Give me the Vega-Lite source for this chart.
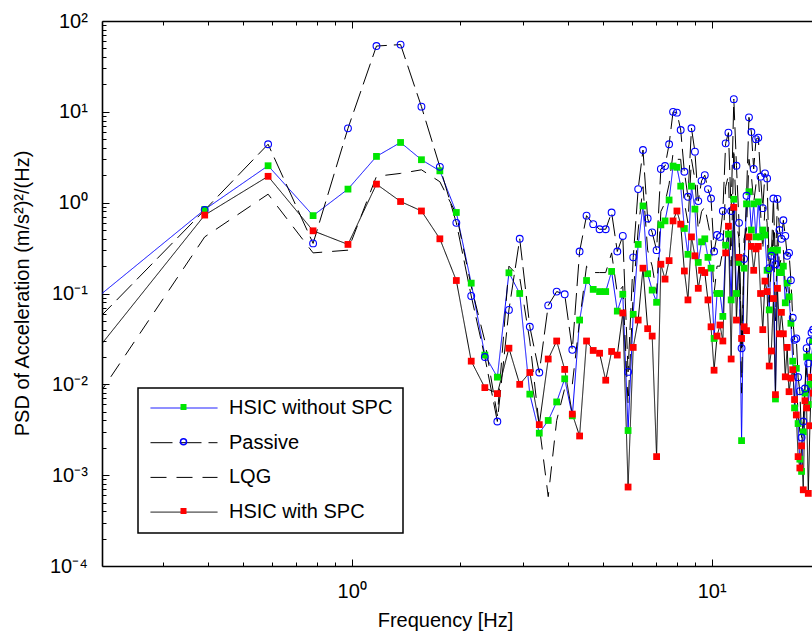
{
"$schema": "https://vega.github.io/schema/vega-lite/v6.json",
"width": 710, "height": 545,
"autosize": {"type": "none"},
"padding": {"left": 102, "top": 21, "right": 0, "bottom": 70},
"background": "white",
"config": {
  "view": {"stroke": null},
  "font": "Liberation Sans",
  "axis": {"grid": false, "domainColor": "black", "tickColor": "black", "labelColor": "black", "titleColor": "black", "labelFont": "Liberation Sans", "titleFont": "Liberation Sans", "labelFontSize": 20, "titleFontSize": 20, "titleFontWeight": "normal", "domainWidth": 1.6, "tickWidth": 1, "labelOverlap": false, "labelFlush": false},
  "legend": {"labelFont": "Liberation Sans", "labelFontSize": 20, "labelColor": "black", "strokeWidth": 1.5, "labelLimit": 400}
},
"datasets": {"psd": [
{"series":"HSIC without SPC","freq":0.1953,"psd":0.089},{"series":"HSIC without SPC","freq":0.3906,"psd":0.84},{"series":"HSIC without SPC","freq":0.5859,"psd":2.55},{"series":"HSIC without SPC","freq":0.7813,"psd":0.72},{"series":"HSIC without SPC","freq":0.9766,"psd":1.41},{"series":"HSIC without SPC","freq":1.1719,"psd":3.23},{"series":"HSIC without SPC","freq":1.3672,"psd":4.6},{"series":"HSIC without SPC","freq":1.5625,"psd":2.97},{"series":"HSIC without SPC","freq":1.7578,"psd":2.24},{"series":"HSIC without SPC","freq":1.9531,"psd":0.78},
{"series":"HSIC without SPC","freq":2.1484,"psd":0.13},{"series":"HSIC without SPC","freq":2.3438,"psd":0.021},{"series":"HSIC without SPC","freq":2.5391,"psd":0.012},{"series":"HSIC without SPC","freq":2.7344,"psd":0.169},{"series":"HSIC without SPC","freq":2.9297,"psd":0.10},{"series":"HSIC without SPC","freq":3.125,"psd":0.0078},{"series":"HSIC without SPC","freq":3.3203,"psd":0.0029},{"series":"HSIC without SPC","freq":3.5156,"psd":0.0040},{"series":"HSIC without SPC","freq":3.7109,"psd":0.0064},{"series":"HSIC without SPC","freq":3.9063,"psd":0.0115},
{"series":"HSIC without SPC","freq":4.1016,"psd":0.0045},{"series":"HSIC without SPC","freq":4.2969,"psd":0.051},{"series":"HSIC without SPC","freq":4.4922,"psd":0.139},{"series":"HSIC without SPC","freq":4.6875,"psd":0.111},{"series":"HSIC without SPC","freq":4.8828,"psd":0.105},{"series":"HSIC without SPC","freq":5.0781,"psd":0.105},{"series":"HSIC without SPC","freq":5.2734,"psd":0.175},{"series":"HSIC without SPC","freq":5.4688,"psd":0.064},{"series":"HSIC without SPC","freq":5.6641,"psd":0.098},{"series":"HSIC without SPC","freq":5.8594,"psd":0.0031},
{"series":"HSIC without SPC","freq":6.0547,"psd":0.059},{"series":"HSIC without SPC","freq":6.25,"psd":0.347},{"series":"HSIC without SPC","freq":6.4453,"psd":0.92},{"series":"HSIC without SPC","freq":6.6406,"psd":0.165},{"series":"HSIC without SPC","freq":6.8359,"psd":0.109},{"series":"HSIC without SPC","freq":7.0313,"psd":0.080},{"series":"HSIC without SPC","freq":7.2266,"psd":0.57},{"series":"HSIC without SPC","freq":7.4219,"psd":0.63},{"series":"HSIC without SPC","freq":7.6172,"psd":1.07},{"series":"HSIC without SPC","freq":7.8125,"psd":2.53},
{"series":"HSIC without SPC","freq":8.0078,"psd":2.45},{"series":"HSIC without SPC","freq":8.2031,"psd":1.52},{"series":"HSIC without SPC","freq":8.3984,"psd":0.52},{"series":"HSIC without SPC","freq":8.5938,"psd":0.27},{"series":"HSIC without SPC","freq":8.7891,"psd":1.52},{"series":"HSIC without SPC","freq":8.9844,"psd":0.85},{"series":"HSIC without SPC","freq":9.1797,"psd":0.22},{"series":"HSIC without SPC","freq":9.375,"psd":0.37},{"series":"HSIC without SPC","freq":9.5703,"psd":0.40},{"series":"HSIC without SPC","freq":9.7656,"psd":0.25},
{"series":"HSIC without SPC","freq":9.9609,"psd":0.19},{"series":"HSIC without SPC","freq":10.1563,"psd":0.032},{"series":"HSIC without SPC","freq":10.3516,"psd":0.10},{"series":"HSIC without SPC","freq":10.5469,"psd":0.10},{"series":"HSIC without SPC","freq":10.7422,"psd":0.056},{"series":"HSIC without SPC","freq":10.9375,"psd":0.34},{"series":"HSIC without SPC","freq":11.1328,"psd":0.45},{"series":"HSIC without SPC","freq":11.3281,"psd":0.085},{"series":"HSIC without SPC","freq":11.5234,"psd":1.09},{"series":"HSIC without SPC","freq":11.7188,"psd":0.10},
{"series":"HSIC without SPC","freq":11.9141,"psd":0.22},{"series":"HSIC without SPC","freq":12.1094,"psd":0.0024},{"series":"HSIC without SPC","freq":12.3047,"psd":0.19},{"series":"HSIC without SPC","freq":12.5,"psd":0.97},{"series":"HSIC without SPC","freq":12.6953,"psd":1.32},{"series":"HSIC without SPC","freq":12.8906,"psd":0.5},{"series":"HSIC without SPC","freq":13.0859,"psd":0.97},{"series":"HSIC without SPC","freq":13.2813,"psd":0.42},{"series":"HSIC without SPC","freq":13.4766,"psd":1.02},{"series":"HSIC without SPC","freq":13.6719,"psd":0.42},
{"series":"HSIC without SPC","freq":13.8672,"psd":0.50},{"series":"HSIC without SPC","freq":14.0625,"psd":0.44},{"series":"HSIC without SPC","freq":14.2578,"psd":0.18},{"series":"HSIC without SPC","freq":14.4531,"psd":0.066},{"series":"HSIC without SPC","freq":14.6484,"psd":0.29},{"series":"HSIC without SPC","freq":14.8438,"psd":0.30},{"series":"HSIC without SPC","freq":15.0391,"psd":0.0069},{"series":"HSIC without SPC","freq":15.2344,"psd":0.30},{"series":"HSIC without SPC","freq":15.4297,"psd":0.17},{"series":"HSIC without SPC","freq":15.625,"psd":0.17},
{"series":"HSIC without SPC","freq":15.8203,"psd":0.2},{"series":"HSIC without SPC","freq":16.0156,"psd":0.079},{"series":"HSIC without SPC","freq":16.2109,"psd":0.13},{"series":"HSIC without SPC","freq":16.4063,"psd":0.092},{"series":"HSIC without SPC","freq":16.6016,"psd":0.047},{"series":"HSIC without SPC","freq":16.7969,"psd":0.018},{"series":"HSIC without SPC","freq":16.9922,"psd":0.0055},{"series":"HSIC without SPC","freq":17.1875,"psd":0.015},{"series":"HSIC without SPC","freq":17.3828,"psd":0.0037},{"series":"HSIC without SPC","freq":17.5781,"psd":0.0015},
{"series":"HSIC without SPC","freq":17.7734,"psd":0.0011},{"series":"HSIC without SPC","freq":17.9688,"psd":0.003},{"series":"HSIC without SPC","freq":18.1641,"psd":0.008},{"series":"HSIC without SPC","freq":18.3594,"psd":0.02},{"series":"HSIC without SPC","freq":18.5547,"psd":0.006},{"series":"HSIC without SPC","freq":18.75,"psd":0.01},{"series":"HSIC without SPC","freq":18.9453,"psd":0.02},{"series":"HSIC without SPC","freq":19.1406,"psd":0.03},

{"series":"Passive","freq":0.1953,"psd":0.050},{"series":"Passive","freq":0.3906,"psd":0.83},{"series":"Passive","freq":0.5859,"psd":4.4},{"series":"Passive","freq":0.7813,"psd":0.356},{"series":"Passive","freq":0.9766,"psd":6.58},{"series":"Passive","freq":1.1719,"psd":53},{"series":"Passive","freq":1.3672,"psd":55},{"series":"Passive","freq":1.5625,"psd":11.4},{"series":"Passive","freq":1.7578,"psd":2.48},{"series":"Passive","freq":1.9531,"psd":0.60},
{"series":"Passive","freq":2.1484,"psd":0.094},{"series":"Passive","freq":2.3438,"psd":0.02},{"series":"Passive","freq":2.5391,"psd":0.0039},{"series":"Passive","freq":2.7344,"psd":0.066},{"series":"Passive","freq":2.9297,"psd":0.40},{"series":"Passive","freq":3.125,"psd":0.043},{"series":"Passive","freq":3.3203,"psd":0.0135},{"series":"Passive","freq":3.5156,"psd":0.074},{"series":"Passive","freq":3.7109,"psd":0.105},{"series":"Passive","freq":3.9063,"psd":0.098},
{"series":"Passive","freq":4.1016,"psd":0.024},{"series":"Passive","freq":4.2969,"psd":0.29},{"series":"Passive","freq":4.4922,"psd":0.72},{"series":"Passive","freq":4.6875,"psd":0.58},{"series":"Passive","freq":4.8828,"psd":0.51},{"series":"Passive","freq":5.0781,"psd":0.51},{"series":"Passive","freq":5.2734,"psd":0.78},{"series":"Passive","freq":5.4688,"psd":0.29},{"series":"Passive","freq":5.6641,"psd":0.43},{"series":"Passive","freq":5.8594,"psd":0.0137},
{"series":"Passive","freq":6.0547,"psd":0.25},{"series":"Passive","freq":6.25,"psd":1.41},{"series":"Passive","freq":6.4453,"psd":3.8},{"series":"Passive","freq":6.6406,"psd":0.67},{"series":"Passive","freq":6.8359,"psd":0.47},{"series":"Passive","freq":7.0313,"psd":0.30},{"series":"Passive","freq":7.2266,"psd":2.35},{"series":"Passive","freq":7.4219,"psd":2.53},{"series":"Passive","freq":7.6172,"psd":4.4},{"series":"Passive","freq":7.8125,"psd":10.0},
{"series":"Passive","freq":8.0078,"psd":9.8},{"series":"Passive","freq":8.2031,"psd":6.3},{"series":"Passive","freq":8.3984,"psd":2.19},{"series":"Passive","freq":8.5938,"psd":1.16},{"series":"Passive","freq":8.7891,"psd":6.6},{"series":"Passive","freq":8.9844,"psd":3.64},{"series":"Passive","freq":9.1797,"psd":1.04},{"series":"Passive","freq":9.375,"psd":1.74},{"series":"Passive","freq":9.5703,"psd":2.01},{"series":"Passive","freq":9.7656,"psd":1.41},
{"series":"Passive","freq":9.9609,"psd":1.11},{"series":"Passive","freq":10.1563,"psd":0.29},{"series":"Passive","freq":10.3516,"psd":0.44},{"series":"Passive","freq":10.5469,"psd":0.42},{"series":"Passive","freq":10.7422,"psd":0.81},{"series":"Passive","freq":10.9375,"psd":4.5},{"series":"Passive","freq":11.1328,"psd":5.9},{"series":"Passive","freq":11.3281,"psd":0.81},{"series":"Passive","freq":11.5234,"psd":13.8},{"series":"Passive","freq":11.7188,"psd":2.55},
{"series":"Passive","freq":11.9141,"psd":0.6},{"series":"Passive","freq":12.1094,"psd":0.025},{"series":"Passive","freq":12.3047,"psd":0.24},{"series":"Passive","freq":12.5,"psd":1.19},{"series":"Passive","freq":12.6953,"psd":8.7},{"series":"Passive","freq":12.8906,"psd":6.0},{"series":"Passive","freq":13.0859,"psd":2.35},{"series":"Passive","freq":13.2813,"psd":5.0},{"series":"Passive","freq":13.4766,"psd":5.2},{"series":"Passive","freq":13.6719,"psd":1.93},
{"series":"Passive","freq":13.8672,"psd":0.87},{"series":"Passive","freq":14.0625,"psd":2.1},{"series":"Passive","freq":14.2578,"psd":1.85},{"series":"Passive","freq":14.4531,"psd":0.19},{"series":"Passive","freq":14.6484,"psd":0.26},{"series":"Passive","freq":14.8438,"psd":1.11},{"series":"Passive","freq":15.0391,"psd":0.21},{"series":"Passive","freq":15.2344,"psd":1.1},{"series":"Passive","freq":15.4297,"psd":0.5},{"series":"Passive","freq":15.625,"psd":0.40},
{"series":"Passive","freq":15.8203,"psd":0.64},{"series":"Passive","freq":16.0156,"psd":0.43},{"series":"Passive","freq":16.2109,"psd":0.26},{"series":"Passive","freq":16.4063,"psd":0.28},{"series":"Passive","freq":16.6016,"psd":0.14},{"series":"Passive","freq":16.7969,"psd":0.054},{"series":"Passive","freq":16.9922,"psd":0.031},{"series":"Passive","freq":17.1875,"psd":0.032},{"series":"Passive","freq":17.3828,"psd":0.012},{"series":"Passive","freq":17.5781,"psd":0.0084},
{"series":"Passive","freq":17.7734,"psd":0.0026},{"series":"Passive","freq":17.9688,"psd":0.0039},{"series":"Passive","freq":18.1641,"psd":0.009},{"series":"Passive","freq":18.3594,"psd":0.025},{"series":"Passive","freq":18.5547,"psd":0.017},{"series":"Passive","freq":18.75,"psd":0.03},{"series":"Passive","freq":18.9453,"psd":0.037},{"series":"Passive","freq":19.1406,"psd":0.04},

{"series":"LQG","freq":0.1953,"psd":0.0070},{"series":"LQG","freq":0.3906,"psd":0.42},{"series":"LQG","freq":0.5859,"psd":1.24},{"series":"LQG","freq":0.7813,"psd":0.28},{"series":"LQG","freq":0.9766,"psd":0.30},{"series":"LQG","freq":1.1719,"psd":1.95},{"series":"LQG","freq":1.3672,"psd":2.1},{"series":"LQG","freq":1.5625,"psd":2.3},{"series":"LQG","freq":1.7578,"psd":1.7},{"series":"LQG","freq":1.9531,"psd":0.75},
{"series":"LQG","freq":2.1484,"psd":0.12},{"series":"LQG","freq":2.3438,"psd":0.03},{"series":"LQG","freq":2.5391,"psd":0.0045},{"series":"LQG","freq":2.7344,"psd":0.2},{"series":"LQG","freq":2.9297,"psd":0.15},{"series":"LQG","freq":3.125,"psd":0.03},{"series":"LQG","freq":3.3203,"psd":0.0035},{"series":"LQG","freq":3.5156,"psd":0.00058},{"series":"LQG","freq":3.7109,"psd":0.004},{"series":"LQG","freq":3.9063,"psd":0.009},
{"series":"LQG","freq":4.1016,"psd":0.01},{"series":"LQG","freq":4.2969,"psd":0.05},{"series":"LQG","freq":4.4922,"psd":0.2},{"series":"LQG","freq":4.6875,"psd":0.17},{"series":"LQG","freq":4.8828,"psd":0.17},{"series":"LQG","freq":5.0781,"psd":0.17},{"series":"LQG","freq":5.2734,"psd":0.28},{"series":"LQG","freq":5.4688,"psd":0.1},{"series":"LQG","freq":5.6641,"psd":0.12},{"series":"LQG","freq":5.8594,"psd":0.006},
{"series":"LQG","freq":6.0547,"psd":0.1},{"series":"LQG","freq":6.25,"psd":0.5},{"series":"LQG","freq":6.4453,"psd":1.5},{"series":"LQG","freq":6.6406,"psd":0.3},{"series":"LQG","freq":6.8359,"psd":0.2},{"series":"LQG","freq":7.0313,"psd":0.1},{"series":"LQG","freq":7.2266,"psd":0.8},{"series":"LQG","freq":7.4219,"psd":1.0},{"series":"LQG","freq":7.6172,"psd":1.6},{"series":"LQG","freq":7.8125,"psd":3.5},
{"series":"LQG","freq":8.0078,"psd":3.0},{"series":"LQG","freq":8.2031,"psd":3.0},{"series":"LQG","freq":8.3984,"psd":1.0},{"series":"LQG","freq":8.5938,"psd":0.6},{"series":"LQG","freq":8.7891,"psd":3.0},{"series":"LQG","freq":8.9844,"psd":1.8},{"series":"LQG","freq":9.1797,"psd":0.5},{"series":"LQG","freq":9.375,"psd":0.8},{"series":"LQG","freq":9.5703,"psd":0.9},{"series":"LQG","freq":9.7656,"psd":0.6},
{"series":"LQG","freq":9.9609,"psd":0.4},{"series":"LQG","freq":10.1563,"psd":0.1},{"series":"LQG","freq":10.3516,"psd":0.2},{"series":"LQG","freq":10.5469,"psd":0.2},{"series":"LQG","freq":10.7422,"psd":0.3},{"series":"LQG","freq":10.9375,"psd":1.5},{"series":"LQG","freq":11.1328,"psd":2.0},{"series":"LQG","freq":11.3281,"psd":0.2},{"series":"LQG","freq":11.5234,"psd":4.0},{"series":"LQG","freq":11.7188,"psd":0.6},
{"series":"LQG","freq":11.9141,"psd":0.4},{"series":"LQG","freq":12.1094,"psd":0.008},{"series":"LQG","freq":12.3047,"psd":0.4},{"series":"LQG","freq":12.5,"psd":0.5},{"series":"LQG","freq":12.6953,"psd":3.0},{"series":"LQG","freq":12.8906,"psd":2.0},{"series":"LQG","freq":13.0859,"psd":1.0},{"series":"LQG","freq":13.2813,"psd":1.6},{"series":"LQG","freq":13.4766,"psd":2.0},{"series":"LQG","freq":13.6719,"psd":0.8},
{"series":"LQG","freq":13.8672,"psd":0.3},{"series":"LQG","freq":14.0625,"psd":0.9},{"series":"LQG","freq":14.2578,"psd":0.6},{"series":"LQG","freq":14.4531,"psd":0.08},{"series":"LQG","freq":14.6484,"psd":0.2},{"series":"LQG","freq":14.8438,"psd":0.5},{"series":"LQG","freq":15.0391,"psd":0.05},{"series":"LQG","freq":15.2344,"psd":0.5},{"series":"LQG","freq":15.4297,"psd":0.2},{"series":"LQG","freq":15.625,"psd":0.25},
{"series":"LQG","freq":15.8203,"psd":0.3},{"series":"LQG","freq":16.0156,"psd":0.12},{"series":"LQG","freq":16.2109,"psd":0.1},{"series":"LQG","freq":16.4063,"psd":0.12},{"series":"LQG","freq":16.6016,"psd":0.05},{"series":"LQG","freq":16.7969,"psd":0.03},{"series":"LQG","freq":16.9922,"psd":0.012},{"series":"LQG","freq":17.1875,"psd":0.01},{"series":"LQG","freq":17.3828,"psd":0.005},{"series":"LQG","freq":17.5781,"psd":0.003},
{"series":"LQG","freq":17.7734,"psd":0.002},{"series":"LQG","freq":17.9688,"psd":0.004},{"series":"LQG","freq":18.1641,"psd":0.01},{"series":"LQG","freq":18.3594,"psd":0.015},{"series":"LQG","freq":18.5547,"psd":0.008},{"series":"LQG","freq":18.75,"psd":0.012},{"series":"LQG","freq":18.9453,"psd":0.02},{"series":"LQG","freq":19.1406,"psd":0.025},

{"series":"HSIC with SPC","freq":0.1953,"psd":0.0235},{"series":"HSIC with SPC","freq":0.3906,"psd":0.73},{"series":"HSIC with SPC","freq":0.5859,"psd":1.95},{"series":"HSIC with SPC","freq":0.7813,"psd":0.49},{"series":"HSIC with SPC","freq":0.9766,"psd":0.347},{"series":"HSIC with SPC","freq":1.1719,"psd":1.6},{"series":"HSIC with SPC","freq":1.3672,"psd":1.03},{"series":"HSIC with SPC","freq":1.5625,"psd":0.81},{"series":"HSIC with SPC","freq":1.7578,"psd":0.40},{"series":"HSIC with SPC","freq":1.9531,"psd":0.139},
{"series":"HSIC with SPC","freq":2.1484,"psd":0.018},{"series":"HSIC with SPC","freq":2.3438,"psd":0.0092},{"series":"HSIC with SPC","freq":2.5391,"psd":0.0079},{"series":"HSIC with SPC","freq":2.7344,"psd":0.025},{"series":"HSIC with SPC","freq":2.9297,"psd":0.010},{"series":"HSIC with SPC","freq":3.125,"psd":0.0135},{"series":"HSIC with SPC","freq":3.3203,"psd":0.0036},{"series":"HSIC with SPC","freq":3.5156,"psd":0.019},{"series":"HSIC with SPC","freq":3.7109,"psd":0.030},{"series":"HSIC with SPC","freq":3.9063,"psd":0.0146},
{"series":"HSIC with SPC","freq":4.1016,"psd":0.0047},{"series":"HSIC with SPC","freq":4.2969,"psd":0.0027},{"series":"HSIC with SPC","freq":4.4922,"psd":0.030},{"series":"HSIC with SPC","freq":4.6875,"psd":0.0236},{"series":"HSIC with SPC","freq":4.8828,"psd":0.022},{"series":"HSIC with SPC","freq":5.0781,"psd":0.0111},{"series":"HSIC with SPC","freq":5.2734,"psd":0.023},{"series":"HSIC with SPC","freq":5.4688,"psd":0.021},{"series":"HSIC with SPC","freq":5.6641,"psd":0.061},{"series":"HSIC with SPC","freq":5.8594,"psd":0.00074},
{"series":"HSIC with SPC","freq":6.0547,"psd":0.0255},{"series":"HSIC with SPC","freq":6.25,"psd":0.051},{"series":"HSIC with SPC","freq":6.4453,"psd":0.19},{"series":"HSIC with SPC","freq":6.6406,"psd":0.041},{"series":"HSIC with SPC","freq":6.8359,"psd":0.034},{"series":"HSIC with SPC","freq":7.0313,"psd":0.0016},{"series":"HSIC with SPC","freq":7.2266,"psd":0.21},{"series":"HSIC with SPC","freq":7.4219,"psd":0.144},{"series":"HSIC with SPC","freq":7.6172,"psd":0.23},{"series":"HSIC with SPC","freq":7.8125,"psd":0.63},
{"series":"HSIC with SPC","freq":8.0078,"psd":0.81},{"series":"HSIC with SPC","freq":8.2031,"psd":0.58},{"series":"HSIC with SPC","freq":8.3984,"psd":0.177},{"series":"HSIC with SPC","freq":8.5938,"psd":0.085},{"series":"HSIC with SPC","freq":8.7891,"psd":0.42},{"series":"HSIC with SPC","freq":8.9844,"psd":0.26},{"series":"HSIC with SPC","freq":9.1797,"psd":0.114},{"series":"HSIC with SPC","freq":9.375,"psd":0.18},{"series":"HSIC with SPC","freq":9.5703,"psd":0.17},{"series":"HSIC with SPC","freq":9.7656,"psd":0.085},
{"series":"HSIC with SPC","freq":9.9609,"psd":0.043},{"series":"HSIC with SPC","freq":10.1563,"psd":0.0143},{"series":"HSIC with SPC","freq":10.3516,"psd":0.034},{"series":"HSIC with SPC","freq":10.5469,"psd":0.045},{"series":"HSIC with SPC","freq":10.7422,"psd":0.030},{"series":"HSIC with SPC","freq":10.9375,"psd":0.28},{"series":"HSIC with SPC","freq":11.1328,"psd":0.55},{"series":"HSIC with SPC","freq":11.3281,"psd":0.019},{"series":"HSIC with SPC","freq":11.5234,"psd":0.89},{"series":"HSIC with SPC","freq":11.7188,"psd":0.051},
{"series":"HSIC with SPC","freq":11.9141,"psd":0.25},{"series":"HSIC with SPC","freq":12.1094,"psd":0.032},{"series":"HSIC with SPC","freq":12.3047,"psd":0.043},{"series":"HSIC with SPC","freq":12.5,"psd":0.039},{"series":"HSIC with SPC","freq":12.6953,"psd":0.42},{"series":"HSIC with SPC","freq":12.8906,"psd":0.33},{"series":"HSIC with SPC","freq":13.0859,"psd":0.18},{"series":"HSIC with SPC","freq":13.2813,"psd":0.31},{"series":"HSIC with SPC","freq":13.4766,"psd":0.33},{"series":"HSIC with SPC","freq":13.6719,"psd":0.10},
{"series":"HSIC with SPC","freq":13.8672,"psd":0.04},{"series":"HSIC with SPC","freq":14.0625,"psd":0.137},{"series":"HSIC with SPC","freq":14.2578,"psd":0.105},{"series":"HSIC with SPC","freq":14.4531,"psd":0.0159},{"series":"HSIC with SPC","freq":14.6484,"psd":0.0233},{"series":"HSIC with SPC","freq":14.8438,"psd":0.088},{"series":"HSIC with SPC","freq":15.0391,"psd":0.0077},{"series":"HSIC with SPC","freq":15.2344,"psd":0.114},{"series":"HSIC with SPC","freq":15.4297,"psd":0.036},{"series":"HSIC with SPC","freq":15.625,"psd":0.062},
{"series":"HSIC with SPC","freq":15.8203,"psd":0.036},{"series":"HSIC with SPC","freq":16.0156,"psd":0.0121},{"series":"HSIC with SPC","freq":16.2109,"psd":0.0255},{"series":"HSIC with SPC","freq":16.4063,"psd":0.0083},{"series":"HSIC with SPC","freq":16.6016,"psd":0.0117},{"series":"HSIC with SPC","freq":16.7969,"psd":0.0145},{"series":"HSIC with SPC","freq":16.9922,"psd":0.0068},{"series":"HSIC with SPC","freq":17.1875,"psd":0.0046},{"series":"HSIC with SPC","freq":17.3828,"psd":0.0016},{"series":"HSIC with SPC","freq":17.5781,"psd":0.0012},
{"series":"HSIC with SPC","freq":17.7734,"psd":0.0021},{"series":"HSIC with SPC","freq":17.9688,"psd":0.00069},{"series":"HSIC with SPC","freq":18.1641,"psd":0.0066},{"series":"HSIC with SPC","freq":18.3594,"psd":0.0055},{"series":"HSIC with SPC","freq":18.5547,"psd":0.00063},{"series":"HSIC with SPC","freq":18.75,"psd":0.0035},{"series":"HSIC with SPC","freq":18.9453,"psd":0.012},{"series":"HSIC with SPC","freq":19.1406,"psd":0.008}
]},
"data": {"name": "psd"},
"resolve": {"axis": {"x": "independent", "y": "independent"}},
"layer": [
  {
    "mark": {"type": "line", "clip": true, "strokeWidth": 1},
    "encoding": {
      "x": {"field": "freq", "type": "quantitative", "scale": {"type": "log", "domain": [0.2025, 19.0], "nice": false},
            "axis": {"orient": "bottom", "values": [1, 10], "tickSize": -7, "labels": false, "title": null, "domain": true}},
      "y": {"field": "psd", "type": "quantitative", "scale": {"type": "log", "domain": [0.0001, 100], "nice": false},
            "axis": {"orient": "left", "values": [0.0001, 0.001, 0.01, 0.1, 1, 10, 100], "tickSize": -7, "labels": false, "title": null, "domain": true}},
      "color": {"field": "series", "type": "nominal", "sort": ["HSIC without SPC", "Passive", "LQG", "HSIC with SPC"],
                "scale": {"range": ["#0000ff", "#000000", "#000000", "#000000"]},
                "legend": {"orient": "none", "legendX": 36, "legendY": 367, "zindex": 1, "title": null, "symbolType": "stroke", "symbolSize": 4489, "symbolStrokeWidth": 1, "clipHeight": 20, "rowPadding": 14.7, "padding": 10, "symbolOffset": 2, "labelOffset": 11, "strokeColor": "black", "fillColor": "white",
                           "encode": {"symbols": {"update": {"shape": {"value": "stroke"}, "strokeWidth": {"value": 1}, "strokeDash": {"signal": "datum.value === 'Passive' ? [22, 7] : datum.value === 'LQG' ? [16, 10] : [1, 0]"}}}}}},
      "strokeDash": {"field": "series", "type": "nominal", "sort": ["HSIC without SPC", "Passive", "LQG", "HSIC with SPC"],
                "scale": {"range": [[1, 0], [22, 7], [16, 10], [1, 0]]},
                "legend": null}
    }
  },
  {
    "mark": {"type": "point", "clip": true, "size": 46, "strokeWidth": 1.1, "opacity": 1},
    "encoding": {
      "x": {"field": "freq", "type": "quantitative",
            "axis": {"orient": "bottom", "values": [0.3, 0.4, 0.5, 0.6, 0.7, 0.8, 0.9, 2, 3, 4, 5, 6, 7, 8, 9], "tickSize": -4, "labels": false, "title": null, "domain": false}},
      "y": {"field": "psd", "type": "quantitative",
            "axis": {"orient": "left", "values": [0.0002,0.0003,0.0004,0.0005,0.0006,0.0007,0.0008,0.0009,0.002,0.003,0.004,0.005,0.006,0.007,0.008,0.009,0.02,0.03,0.04,0.05,0.06,0.07,0.08,0.09,0.2,0.3,0.4,0.5,0.6,0.7,0.8,0.9,2,3,4,5,6,7,8,9,20,30,40,50,60,70,80,90], "tickSize": -4, "labels": false, "title": null, "domain": false}},
      "fill": {"field": "series", "type": "nominal",
               "scale": {"domain": ["HSIC without SPC", "Passive", "LQG", "HSIC with SPC"], "range": ["#00e600", "transparent", "transparent", "#ff0000"]},
               "legend": {"orient": "bottom-left", "offset": 34, "zindex": 2, "title": null, "labelExpr": "''", "symbolOffset": 27.5, "clipHeight": 20, "rowPadding": 14.7, "padding": 10, "labelOffset": 11, "strokeColor": "transparent", "fillColor": "transparent", "symbolSize": 36,
                          "encode": {"symbols": {"update": {"size": {"signal": "datum.value === 'Passive' ? 24 : 36"}, "strokeWidth": {"value": 1}, "opacity": {"value": 1}}}}}},
      "stroke": {"field": "series", "type": "nominal",
               "scale": {"domain": ["HSIC without SPC", "Passive", "LQG", "HSIC with SPC"], "range": ["transparent", "#0000ff", "transparent", "transparent"]},
               "legend": {"orient": "bottom-left", "offset": 34, "zindex": 2, "title": null, "labelExpr": "''", "symbolOffset": 27.5, "clipHeight": 20, "rowPadding": 14.7, "padding": 10, "labelOffset": 11, "strokeColor": "transparent", "fillColor": "transparent", "symbolSize": 36,
                          "encode": {"symbols": {"update": {"size": {"signal": "datum.value === 'Passive' ? 24 : 36"}, "strokeWidth": {"value": 1}, "opacity": {"value": 1}}}}}},
      "shape": {"field": "series", "type": "nominal",
               "scale": {"domain": ["HSIC without SPC", "Passive", "LQG", "HSIC with SPC"], "range": ["square", "circle", "square", "square"]},
               "legend": {"orient": "bottom-left", "offset": 34, "zindex": 2, "title": null, "labelExpr": "''", "symbolOffset": 27.5, "clipHeight": 20, "rowPadding": 14.7, "padding": 10, "labelOffset": 11, "strokeColor": "transparent", "fillColor": "transparent", "symbolSize": 36,
                          "encode": {"symbols": {"update": {"size": {"signal": "datum.value === 'Passive' ? 24 : 36"}, "strokeWidth": {"value": 1}, "opacity": {"value": 1}}}}}}
    }
  },
  {
    "mark": {"type": "point", "opacity": 0, "clip": true},
    "encoding": {
      "x": {"field": "freq", "type": "quantitative",
            "axis": {"orient": "bottom", "values": [1, 10], "ticks": false, "domain": false, "labelPadding": 31, "labelBaseline": "alphabetic",
                     "labelExpr": "datum.value > 5 ? '10¹' : '10⁰'",
                     "title": "Frequency [Hz]", "titleX": 343, "titleY": 60, "titleBaseline": "alphabetic", "titleAlign": "center"}},
      "y": {"field": "psd", "type": "quantitative",
            "axis": {"orient": "left", "values": [0.0001, 0.001, 0.01, 0.1, 1, 10, 100], "ticks": false, "domain": false, "labelPadding": 14.7, "labelBaseline": "middle",
                     "labelExpr": "datum.value > 50 ? '10²' : datum.value > 5 ? '10¹' : datum.value > 0.5 ? '10⁰' : datum.value > 0.05 ? '10⁻¹' : datum.value > 0.005 ? '10⁻²' : datum.value > 0.0005 ? '10⁻³' : '10⁻⁴'",
                     "title": "PSD of Acceleration (m/s²)²/(Hz)", "titleX": -80, "titleY": 272, "titleBaseline": "middle", "titleAlign": "center", "titleAngle": -90}}
    }
  },
  {
    "mark": {"type": "point", "opacity": 0, "clip": true},
    "encoding": {
      "x": {"field": "freq", "type": "quantitative",
            "axis": {"orient": "top", "values": [1, 10], "tickSize": -7, "labels": false, "title": null, "domain": true}},
      "y": {"field": "psd", "type": "quantitative", "axis": null}
    }
  },
  {
    "mark": {"type": "point", "opacity": 0, "clip": true},
    "encoding": {
      "x": {"field": "freq", "type": "quantitative",
            "axis": {"orient": "top", "values": [0.3, 0.4, 0.5, 0.6, 0.7, 0.8, 0.9, 2, 3, 4, 5, 6, 7, 8, 9], "tickSize": -4, "labels": false, "title": null, "domain": false}},
      "y": {"field": "psd", "type": "quantitative", "axis": null}
    }
  }
]
}
